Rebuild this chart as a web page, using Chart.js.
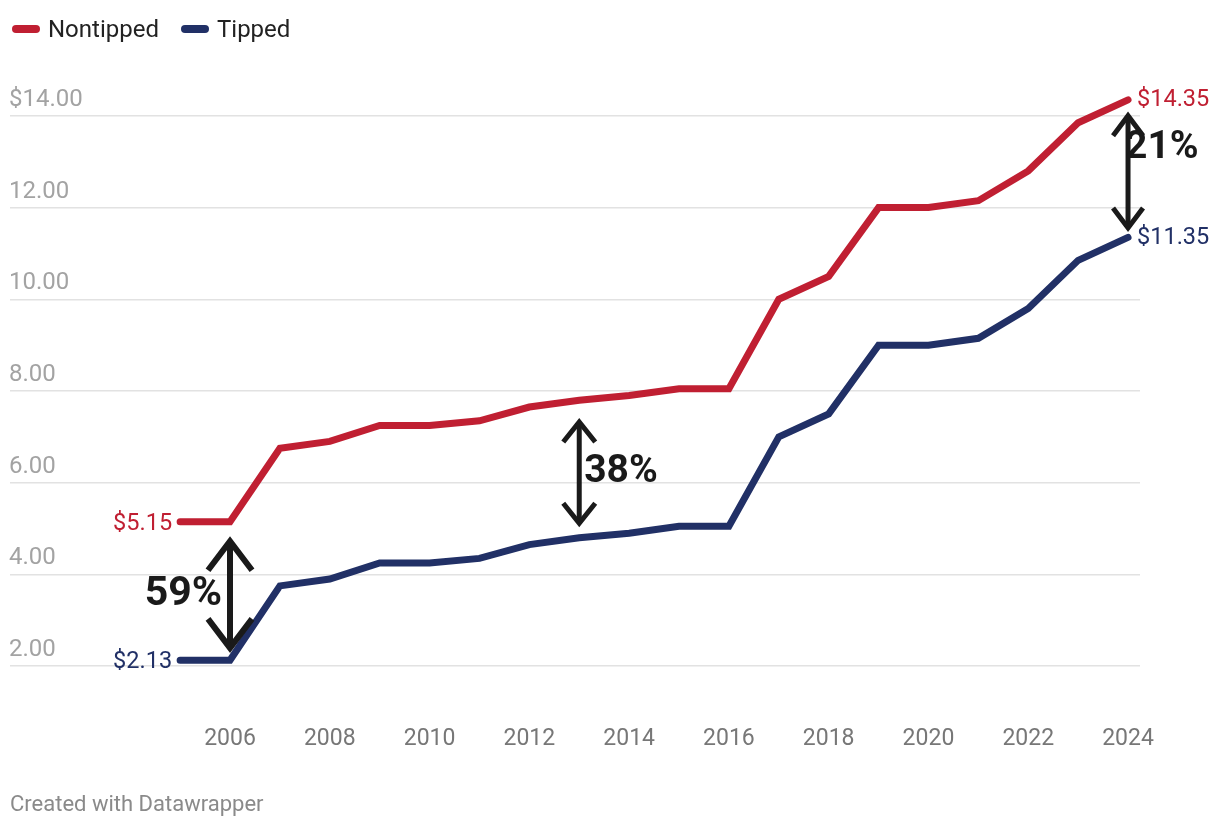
<!DOCTYPE html>
<html>
<head>
<meta charset="utf-8">
<script src="https://cdn.jsdelivr.net/npm/chart.js@4/dist/chart.umd.min.js"></script>
<style>
  body { margin: 0; background: #fff; font-family: Roboto, sans-serif; }
  #wrap { position: relative; width: 1220px; height: 828px; }
  #legend { position: absolute; left: 12px; top: 15px; display: flex; align-items: center; font-size: 24px; color: #222; }
  .key { display: flex; align-items: center; margin-right: 22px; }
  .swatch { width: 28px; height: 8px; border-radius: 4px; margin-right: 8px; }
  #credit { position: absolute; left: 10px; top: 791px; font-size: 22px; color: #8a8a8a; }
</style>
</head>
<body>
<div id="wrap">
  <canvas id="myChart" width="1220" height="828"></canvas>
  <div id="legend"></div>
  <div id="credit">Created with Datawrapper</div>
</div>
<script>
const years = [2005, 2006, 2007, 2008, 2009, 2010, 2011, 2012, 2013, 2014,
               2015, 2016, 2017, 2018, 2019, 2020, 2021, 2022, 2023, 2024];
const nontipped = [5.15, 5.15, 6.75, 6.90, 7.25, 7.25, 7.35, 7.65, 7.80, 7.90,
                   8.05, 8.05, 10.00, 10.50, 12.00, 12.00, 12.15, 12.80, 13.85, 14.35];
const tipped = [2.13, 2.13, 3.75, 3.90, 4.25, 4.25, 4.35, 4.65, 4.80, 4.90,
                5.05, 5.05, 7.00, 7.50, 9.00, 9.00, 9.15, 9.80, 10.85, 11.35];
const xTicks = [2006, 2008, 2010, 2012, 2014, 2016, 2018, 2020, 2022, 2024];
const yTicks = [2, 4, 6, 8, 10, 12, 14];
const yTickLabels = ['2.00', '4.00', '6.00', '8.00', '10.00', '12.00', '$14.00'];

// gap arrows: year, top tip value, bottom tip value, label
const gapYears = [2006, 2013, 2024];
const gapTop = [4.81, 7.41, 14.09];
const gapBottom = [2.31, 5.03, 11.47];
const gapLabels = ['59%', '38%', '21%'];

const RED = '#c01f32';
const BLUE = '#213066';

document.getElementById('legend').innerHTML =
  [['Nontipped', RED], ['Tipped', BLUE]].map(([t, c]) =>
    `<div class="key"><div class="swatch" style="background:${c}"></div>${t}</div>`).join('');

// arrow look per gap: half width of head, head height, line width
const arrowStyle = [[22, 29, 6], [16, 20, 5], [15, 20, 5]];

const extras = {
  id: 'extras',
  afterDatasetsDraw(chart) {
    const c = chart.ctx;
    const xs = chart.scales.x, ys = chart.scales.y;
    c.save();
    // y tick labels sit above their gridlines
    c.font = '24px Roboto';
    c.fillStyle = '#a3a3a3';
    c.textAlign = 'left';
    c.textBaseline = 'middle';
    yTicks.forEach((v, i) => {
      c.fillText(yTickLabels[i], 9, ys.getPixelForValue(v) - 16);
    });

    // end labels
    c.font = '23.5px Roboto';
    const first = 0, last = years.length - 1;
    c.textAlign = 'right';
    c.fillStyle = RED;
    c.fillText('$' + nontipped[first].toFixed(2), xs.getPixelForValue(years[first]) - 8, ys.getPixelForValue(nontipped[first]) + 2);
    c.fillStyle = BLUE;
    c.fillText('$' + tipped[first].toFixed(2), xs.getPixelForValue(years[first]) - 8, ys.getPixelForValue(tipped[first]) + 2);
    c.textAlign = 'left';
    c.fillStyle = RED;
    c.fillText('$' + nontipped[last].toFixed(2), xs.getPixelForValue(years[last]) + 9, ys.getPixelForValue(nontipped[last]));
    c.fillStyle = BLUE;
    c.fillText('$' + tipped[last].toFixed(2), xs.getPixelForValue(years[last]) + 9, ys.getPixelForValue(tipped[last]) + 1);

    // gap arrows
    c.strokeStyle = '#1a1a1a';
    c.fillStyle = '#1a1a1a';
    c.lineCap = 'butt';
    c.lineJoin = 'miter';
    gapYears.forEach((yr, i) => {
      const [hw, hh, lw] = arrowStyle[i];
      c.lineWidth = lw;
      const x = xs.getPixelForValue(yr);
      const y1 = ys.getPixelForValue(gapTop[i]) + 4;
      const y2 = ys.getPixelForValue(gapBottom[i]) - 4;
      c.beginPath();
      c.moveTo(x, y1 + 2);
      c.lineTo(x, y2 - 2);
      c.stroke();
      c.beginPath();
      c.moveTo(x - hw, y1 + hh);
      c.lineTo(x, y1);
      c.lineTo(x + hw, y1 + hh);
      c.stroke();
      c.beginPath();
      c.moveTo(x - hw, y2 - hh);
      c.lineTo(x, y2);
      c.lineTo(x + hw, y2 - hh);
      c.stroke();
      const mid = (y1 + y2) / 2;
      if (i === 0) {
        c.font = 'bold 41px Roboto';
        c.textAlign = 'right';
        c.fillText(gapLabels[i], x - 8, mid);
      } else if (i === 1) {
        c.font = 'bold 39px Roboto';
        c.textAlign = 'left';
        c.fillText(gapLabels[i], x + 5, mid);
      } else {
        c.font = 'bold 39px Roboto';
        c.textAlign = 'left';
        c.fillText(gapLabels[i], x - 3, y1 + 33);
      }
    });
    c.restore();
  }
};

let myChart;

const createChart = () => {
  const ctx = document.getElementById('myChart').getContext('2d');
  myChart = new Chart(ctx, {
    type: 'line',
    data: {
      datasets: [{
        label: 'Nontipped',
        data: years.map((y, i) => ({ x: y, y: nontipped[i] })),
        borderColor: RED,
        borderWidth: 7,
        borderCapStyle: 'round',
        borderJoinStyle: 'miter',
        tension: 0,
        pointRadius: 0
      }, {
        label: 'Tipped',
        data: years.map((y, i) => ({ x: y, y: tipped[i] })),
        borderColor: BLUE,
        borderWidth: 7,
        borderCapStyle: 'round',
        borderJoinStyle: 'miter',
        tension: 0,
        pointRadius: 0
      }]
    },
    options: {
      responsive: false,
      animation: false,
      layout: { padding: { left: 10, right: 80, top: 70, bottom: 0 } },
      plugins: { legend: { display: false }, tooltip: { enabled: false } },
      scales: {
        x: {
          type: 'linear',
          min: 2001.59,
          max: 2024.24,
          afterBuildTicks: (s) => { s.ticks = xTicks.map(v => ({ value: v })); },
          afterFit: (s) => { s.height = 116; },
          grid: { display: false },
          border: { display: false },
          ticks: {
            padding: 5,
            color: '#777',
            font: { family: 'Roboto', size: 23 },
            maxRotation: 0,
            autoSkip: false,
            callback: (v) => String(v)
          }
        },
        y: {
          min: 1,
          max: 15,
          afterBuildTicks: (s) => { s.ticks = yTicks.map(v => ({ value: v })); },
          afterFit: (s) => { s.width = 0; },
          border: { display: false },
          grid: { color: '#e2e2e2', lineWidth: 1.5, drawTicks: false },
          ticks: { display: false }
        }
      }
    },
    plugins: [extras]
  });
};

createChart();
</script>
</body>
</html>
